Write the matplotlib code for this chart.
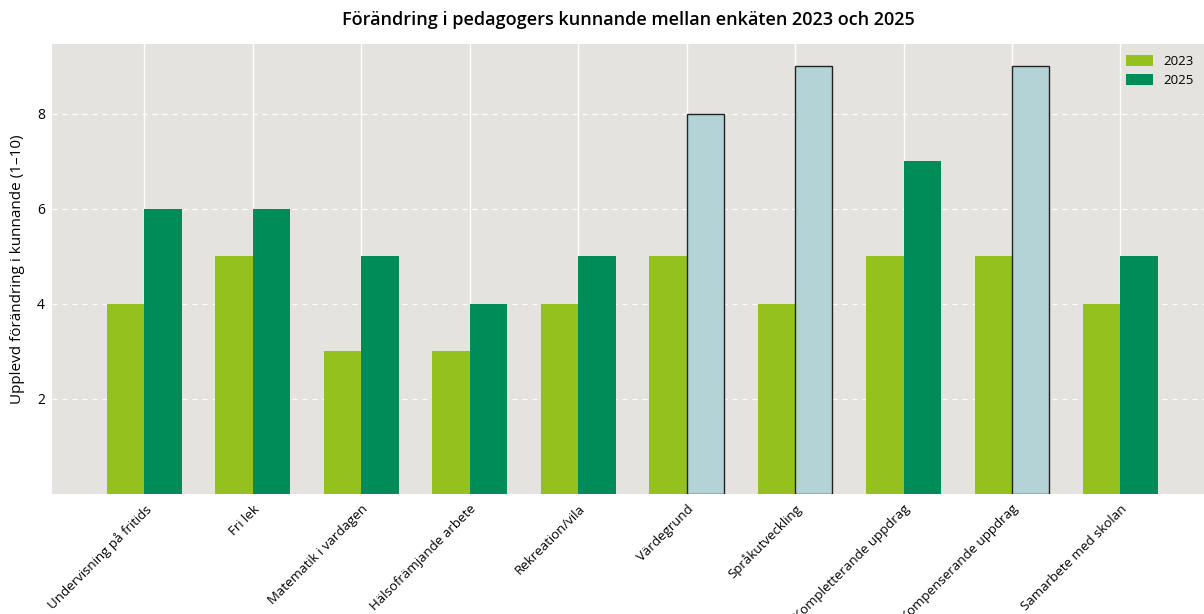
import numpy as np
import matplotlib
matplotlib.use("Agg")
import matplotlib.pyplot as plt

# ── data ──────────────────────────────────────────────────────────────────────
categories = ["Undervisning på fritids", "Fri lek", "Matematik i vardagen",
              "Hälsofrämjande arbete", "Rekreation/vila", "Värdegrund",
              "Språkutveckling", "Kompletterande uppdrag",
              "Kompenserande uppdrag", "Samarbete med skolan"]
values_2023 = [4, 5, 3, 3, 4, 5, 4, 5, 5, 4]
values_2025 = [6, 6, 5, 4, 5, 8, 9, 7, 9, 5]
highlighted = ["Värdegrund", "Språkutveckling", "Kompenserande uppdrag"]

C23 = "#95c11f"
C25 = "#008c58"
CHL = "#b3d3d6"
BG = "#e5e3df"

plt.rcParams["font.family"] = ["Open Sans", "DejaVu Sans"]

fig = plt.figure(figsize=(12.04, 6.14), dpi=100)
ax = fig.add_axes([0.0432, 0.1954, 0.9568, 0.7329])
ax.set_facecolor(BG)

x = np.arange(len(categories))
w = 0.345
ax.bar(x - w / 2, values_2023, w, color=C23, label="2023", zorder=3)
bars = ax.bar(x + w / 2, values_2025, w, color=C25, label="2025", zorder=3)
for b, cat in zip(bars, categories):
    if cat in highlighted:
        b.set_facecolor(CHL)
        b.set_edgecolor("#222222")
        b.set_linewidth(1.0)

ax.set_xlim(-0.85, 9.77)
ax.set_ylim(0, 9.47)
ax.set_yticks([2, 4, 6, 8])
ax.set_xticks(x)
ax.set_xticklabels(categories, rotation=45, ha="right", rotation_mode="anchor", fontsize=9.5)
ax.tick_params(axis="both", length=0)
ax.tick_params(axis="x", pad=6, labelsize=9.5)
ax.tick_params(axis="y", pad=5, labelsize=10)

ax.yaxis.grid(True, color="white", ls=(0, (4, 4)), lw=0.9, zorder=0)
ax.xaxis.grid(True, color="white", ls="-", lw=1.0, zorder=0)
ax.set_axisbelow(True)
for s in ax.spines.values():
    s.set_visible(False)

ax.set_ylabel("Upplevd förändring i kunnande (1–10)", fontsize=11, labelpad=9)
ax.set_title("Förändring i pedagogers kunnande mellan enkäten 2023 och 2025",
             fontsize=13, fontweight="semibold", pad=14)

ax.legend(loc="upper right", frameon=False, fontsize=9.5, handlelength=2.0,
          handleheight=0.9, borderaxespad=0.4)

fig.savefig("out.png", dpi=100)
